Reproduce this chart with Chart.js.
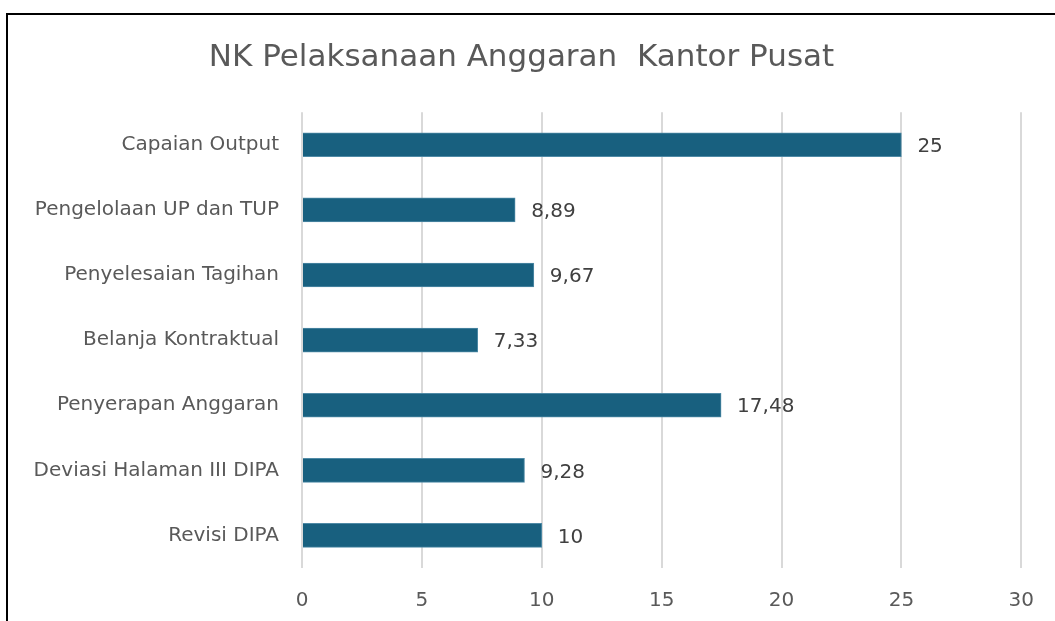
<!DOCTYPE html>
<html lang="id">
<head>
    <meta charset="UTF-8">
    <title>NK Pelaksanaan Anggaran Kantor Pusat</title>
    <script src="https://cdn.jsdelivr.net/npm/chart.js"></script>
    <style>
        html, body {
            margin: 0;
            padding: 0;
            background: #fff;
            overflow: hidden;
        }
        .frame {
            position: absolute;
            left: 6px;
            top: 13px;
            width: 1200px;
            height: 800px;
            border: 2px solid #000;
        }
        .wrap {
            position: absolute;
            left: 0;
            top: 0;
            width: 1055px;
            height: 621px;
        }
    </style>
</head>
<body>
    <div class="frame"></div>
    <div class="wrap">
        <canvas id="bar-chart" width="1055" height="621"></canvas>
    </div>

    <script>
        const chartTitle = 'NK Pelaksanaan Anggaran  Kantor Pusat';
        const categories = [
            'Capaian Output',
            'Pengelolaan UP dan TUP',
            'Penyelesaian Tagihan',
            'Belanja Kontraktual',
            'Penyerapan Anggaran',
            'Deviasi Halaman III DIPA',
            'Revisi DIPA'
        ];
        const values = [25, 8.89, 9.67, 7.33, 17.48, 9.28, 10];
        const xTicks = [0, 5, 10, 15, 20, 25, 30];

        const fontFamily = '"DejaVu Sans", "Open Sans", sans-serif';

        // labels at the end of each bar, with comma decimals
        const valueLabels = {
            id: 'valueLabels',
            afterDatasetsDraw(chart) {
                const ctx = chart.ctx;
                const meta = chart.getDatasetMeta(0);
                ctx.save();
                ctx.font = '20px ' + fontFamily;
                ctx.fillStyle = '#404040';
                ctx.textAlign = 'left';
                ctx.textBaseline = 'middle';
                meta.data.forEach((bar, i) => {
                    const txt = String(values[i]).replace('.', ',');
                    ctx.fillText(txt, bar.x + 16, bar.y + 2);
                });
                ctx.restore();
            }
        };

        const ctx = document.getElementById('bar-chart').getContext('2d');
        new Chart(ctx, {
            type: 'bar',
            data: {
                labels: categories,
                datasets: [{
                    data: values,
                    backgroundColor: '#18607f',
                    borderColor: '#4f8aa6',
                    borderWidth: 1,
                    barThickness: 24
                }]
            },
            options: {
                indexAxis: 'y',
                responsive: false,
                animation: false,
                layout: {
                    padding: { left: 20, right: 32, top: 0, bottom: 0 }
                },
                plugins: {
                    legend: { display: false },
                    tooltip: { enabled: false },
                    title: {
                        display: true,
                        text: chartTitle,
                        color: '#595959',
                        font: { family: fontFamily, size: 31, weight: 'normal' },
                        padding: { top: 39, bottom: 36 }
                    }
                },
                scales: {
                    x: {
                        min: 0,
                        max: 30,
                        afterBuildTicks(scale) {
                            scale.ticks = xTicks.map(v => ({ value: v }));
                        },
                        afterFit(scale) {
                            scale.height = 53;
                        },
                        grid: {
                            color: '#d9d9d9',
                            lineWidth: 2,
                            drawTicks: false
                        },
                        border: { display: false },
                        ticks: {
                            color: '#595959',
                            padding: 21,
                            font: { family: fontFamily, size: 20 }
                        }
                    },
                    y: {
                        afterFit(scale) {
                            scale.width = 282;
                        },
                        grid: { display: false, drawTicks: false },
                        border: { display: false },
                        ticks: {
                            color: '#595959',
                            padding: 23,
                            font: { family: fontFamily, size: 20 }
                        }
                    }
                }
            },
            plugins: [valueLabels]
        });
    </script>
</body>
</html>
